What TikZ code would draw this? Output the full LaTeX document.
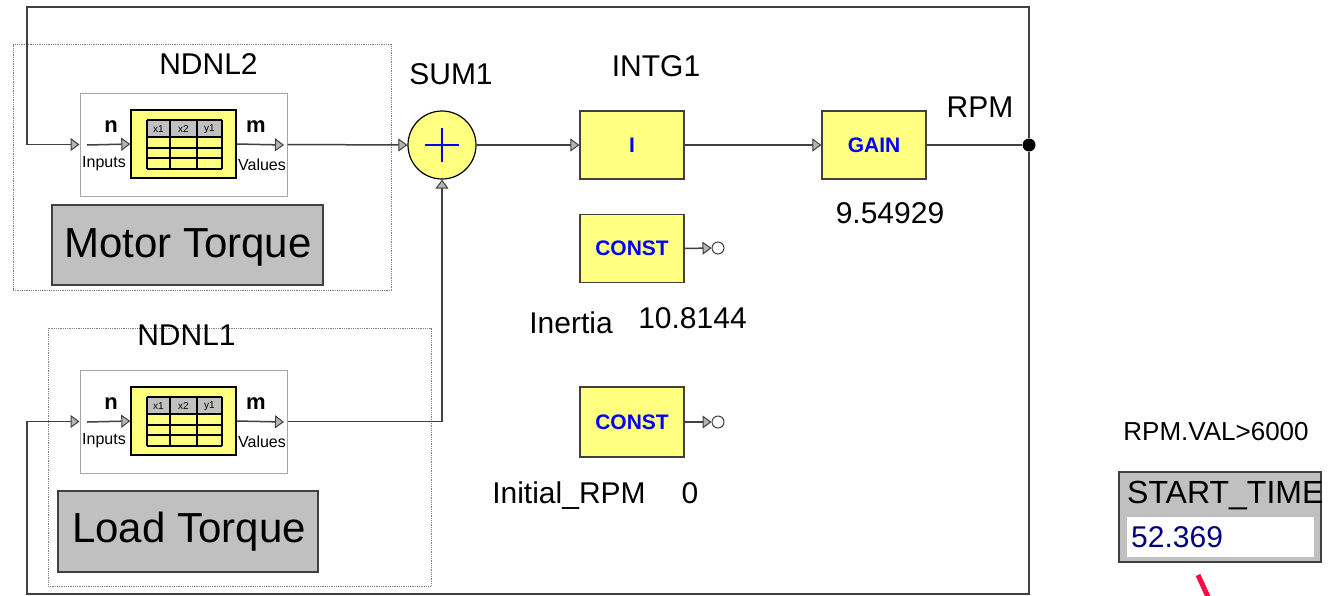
\documentclass[tikz,border=0pt]{standalone}
\usepackage{fontspec}
\setmainfont{Liberation Sans}
\usetikzlibrary{positioning, arrows.meta}

\definecolor{blockyellow}{HTML}{FFFF80}
\definecolor{wiregray}{HTML}{404040}
\definecolor{tipgray}{HTML}{B4B4B4}
\definecolor{panelgray}{HTML}{C0C0C0}
\definecolor{valnavy}{HTML}{000080}
\definecolor{markred}{HTML}{FF0A46}

\begin{document}
\begin{tikzpicture}[x=1pt, y=-1pt,
        wire/.style={draw=wiregray, line width=1.5pt},
        feed/.style={wire, -{Triangle[length=9pt, width=13pt, fill=tipgray, line width=1pt]}},
        block/.style={rectangle, draw=wiregray, line width=1.2pt, fill=blockyellow, minimum width=104pt, minimum height=68pt, inner sep=0pt, text=blue, font=\fontsize{21}{24}\selectfont\bfseries},
        unit/.style={rectangle, draw=gray!70, line width=1pt, fill=white, minimum width=207pt, minimum height=103pt, inner sep=0pt},
        table/.style={rectangle, draw=black, line width=1.4pt, fill=blockyellow, minimum width=105pt, minimum height=68pt, inner sep=0pt},
        grid/.style={draw=black, line width=1.4pt},
        cell/.style={font=\fontsize{10}{12}\selectfont, inner sep=0pt},
        group/.style={rectangle, draw=gray, densely dotted, line width=0.8pt, inner sep=0pt},
        panel/.style={rectangle, draw=wiregray, line width=1.5pt, fill=panelgray, inner sep=0pt},
        big/.style={font=\fontsize{42}{48}\selectfont, inner sep=0pt, anchor=base},
        tag/.style={font=\fontsize{30}{34}\selectfont, inner sep=0pt, anchor=base},
        pin/.style={font=\fontsize{22}{24}\selectfont\bfseries, inner sep=0pt, anchor=base},
        io/.style={font=\fontsize{16}{18}\selectfont, inner sep=0pt, anchor=base},
        term/.style={circle, draw=wiregray, line width=1pt, fill=white, minimum size=12pt, inner sep=0pt}
    ]
        \useasboundingbox (0,0) rectangle (1330,595);

        % Dotted groups
        \node[group, minimum width=378pt, minimum height=246pt] (grp2) at (202,167) {};
        \node[group, minimum width=383pt, minimum height=258pt] (grp1) at (239.5,457) {};

        % Table blocks NDNL2 (top) and NDNL1 (bottom)
        \foreach \i/\oy in {2/0, 1/277} {
            \node[unit] (blk\i) at (183.5, 144.5+\oy) {};
            \node[table] (tab\i) at (183.5, 144+\oy) {};
            \fill[panelgray] (147,120+\oy) rectangle (222,137+\oy);
            \foreach \yy in {120,137,148,158,169} {
                \draw[grid] (147,\yy+\oy) -- (222,\yy+\oy);
            }
            \foreach \xx in {147,170,197,222} {
                \draw[grid] (\xx,120+\oy) -- (\xx,169+\oy);
            }
            \foreach \xx/\t in {158.5/x1, 183.5/x2, 209.5/y1} {
                \node[cell] (c\i\t) at (\xx,129+\oy) {\t};
            }
            \coordinate (inS\i) at (87,145+\oy);
            \coordinate (outE\i) at (284,145+\oy);
            \draw[feed] (inS\i) -- (tab\i.west);
            \draw[feed] (tab\i.east) -- (outE\i);
            \node[pin] (n\i) at (111,132+\oy) {n};
            \node[pin] (m\i) at (256,132+\oy) {m};
            \node[io] (inp\i) at (104,167+\oy) {Inputs};
            \node[io] (val\i) at (262,170+\oy) {Values};
        }
        \node[tag] (ndnl2) at (208.5,74) {NDNL2};
        \node[tag] (ndnl1) at (186.5,345) {NDNL1};

        % Gray comment boxes
        \node[panel, minimum width=271pt, minimum height=80pt] (motor) at (187.5,245) {};
        \node[big] (motorT) at (188,257) {Motor Torque};
        \node[panel, minimum width=260pt, minimum height=81pt] (load) at (188,531.5) {};
        \node[big] (loadT) at (189,542) {Load Torque};

        % Summer, integrator, gain
        \node[circle, draw=black, line width=1.2pt, fill=blockyellow, minimum size=68pt, inner sep=0pt] (sum) at (442,145) {};
        \draw[blue, line width=2.2pt] ([xshift=-17pt]sum.center) -- ([xshift=17pt]sum.center);
        \draw[blue, line width=2.2pt] ([yshift=-17pt]sum.center) -- ([yshift=17pt]sum.center);
        \node[tag] (sumT) at (451,84) {SUM1};
        \node[block] (intg) at (632,145) {I};
        \node[tag] (intgT) at (656,76) {INTG1};
        \node[block] (gain) at (874,145) {GAIN};
        \node[tag] (gainV) at (890,223) {9.54929};
        \node[circle, fill=black, minimum size=13pt, inner sep=0pt] (rpm) at (1029,145) {};
        \node[tag] (rpmT) at (980,117) {RPM};

        % Constants
        \node[block] (const1) at (632,248.5) {CONST};
        \node[term] (term1) at (718,248) {};
        \node[tag] (inertiaT) at (571,333) {Inertia};
        \node[tag] (inertiaV) at (692.5,328) {10.8144};
        \node[block, minimum height=70pt] (const2) at (632,422) {CONST};
        \node[term] (term2) at (718,422) {};
        \node[tag] (initT) at (569,503) {Initial\_RPM};
        \node[tag] (initV) at (690,503) {0};

        % Wires
        \coordinate (loopTL) at (27,7);
        \coordinate (loopBL) at (27,594);
        \draw[feed] (rpm) |- (loopTL) |- (blk2.west);
        \draw[feed] (rpm) |- (loopBL) |- (blk1.west);
        \draw[feed] (blk2.east) -- (sum.west);
        \draw[feed] (blk1.east) -| (sum.south);
        \draw[feed] (sum.east) -- (intg.west);
        \draw[feed] (intg.east) -- (gain.west);
        \draw[wire] (gain.east) -- (rpm);
        \draw[feed] (const1.east) -- (term1.west);
        \draw[feed] (const2.east) -- (term2.west);

        % Event display
        \node[tag, font=\fontsize{26}{30}\selectfont] (cond) at (1216,440) {RPM.VAL>6000};
        \node[panel, line width=1.2pt, minimum width=202pt, minimum height=90pt] (stbox) at (1220,517) {};
        \begin{scope}
            \clip (stbox.north west) rectangle (stbox.south east);
            \node[tag, anchor=base west, font=\fontsize{32}{34}\selectfont] (stT) at (1127,503) {START\_TIME};
        \end{scope}
        \node[rectangle, fill=white, minimum width=187pt, minimum height=40pt, inner sep=0pt] (stfield) at (1220.5,537) {};
        \node[tag, anchor=base west, text=valnavy] (stV) at (1131,547) {52.369};
        \coordinate (mk1) at (1198,575);
        \coordinate (mk2) at (1209,599);
        \draw[markred, line width=5pt] (mk1) -- (mk2);
    \end{tikzpicture}
\end{document}
